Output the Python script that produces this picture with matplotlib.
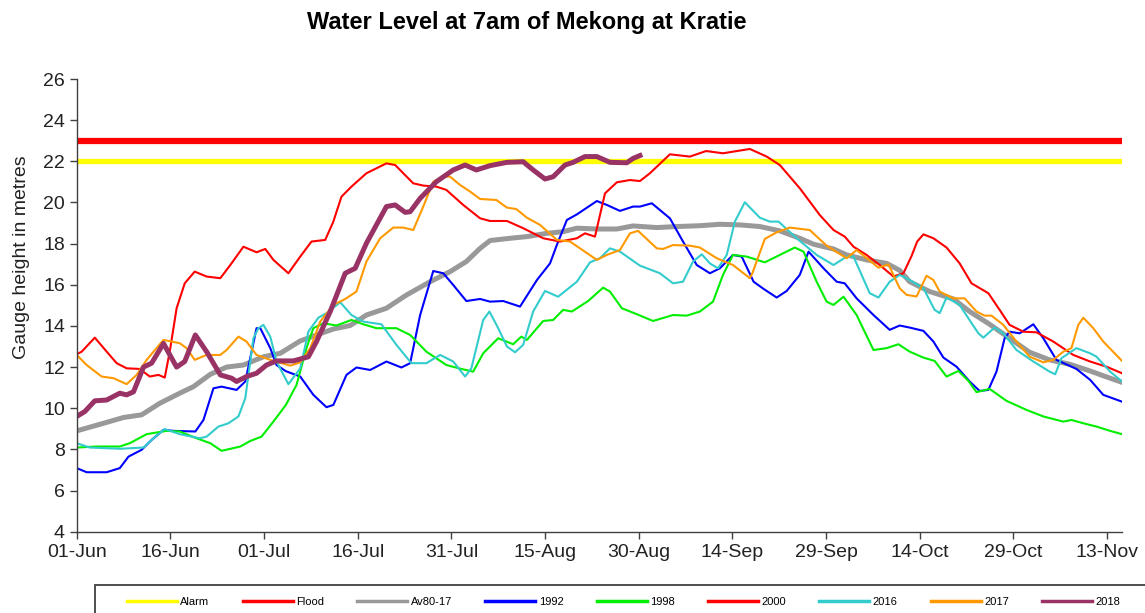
import matplotlib.pyplot as plt
from matplotlib.patches import Rectangle

plt.rcParams['font.family'] = ['Liberation Sans', 'DejaVu Sans']

# Water level (m) at Kratie, day counted from 01-Jun
alarm_level = 22.0
flood_level = 23.0

tick_days = [0, 15, 30, 45, 60, 75, 90, 105, 120, 135, 150, 165]
tick_labels = ['01-Jun', '16-Jun', '01-Jul', '16-Jul', '31-Jul', '15-Aug',
               '30-Aug', '14-Sep', '29-Sep', '14-Oct', '29-Oct', '13-Nov']

days_av = [0, 4.3, 7.5, 10.4, 13.3, 16.5, 18.7, 21.4, 24.0, 26.7,
           29.9, 32.6, 35.8, 38.4, 41.1, 43.8, 46.4, 49.6, 52.8, 56.6,
           59.8, 62.4, 64.6, 66.2, 69.4, 72.1, 75.3, 77.9, 80.1, 83.3,
           86.5, 89.1, 92.9, 96.1, 99.8, 103.0, 106.2, 109.4, 112.6, 115.8,
           118.0, 121.2, 123.3, 126.5, 129.7, 131.8, 133.4, 136.6, 140.4, 143.0,
           146.2, 149.4, 152.6, 155.8, 159.0, 162.3, 165.5, 167.4]
lvl_av = [8.9, 9.27, 9.55, 9.68, 10.24, 10.73, 11.05, 11.65, 12.0, 12.1,
          12.5, 12.67, 13.27, 13.56, 13.85, 14.02, 14.53, 14.86, 15.5, 16.15,
          16.64, 17.13, 17.77, 18.15, 18.26, 18.34, 18.5, 18.58, 18.75, 18.71,
          18.71, 18.86, 18.78, 18.83, 18.87, 18.94, 18.91, 18.83, 18.62, 18.26,
          17.97, 17.74, 17.45, 17.21, 17.04, 16.7, 16.15, 15.67, 15.31, 14.7,
          14.08, 13.4, 12.72, 12.35, 12.14, 11.81, 11.46, 11.26]

days_1992 = [0, 1.6, 4.8, 6.9, 8.3, 10.4, 12.0, 13.9, 15.5, 19.0,
             20.3, 21.9, 23.2, 25.6, 27.0, 28.8, 29.4, 31.0, 32.0, 33.5,
             35.8, 37.9, 40.0, 41.1, 43.2, 44.8, 47.0, 49.6, 52.0, 53.4,
             55.0, 57.1, 58.7, 60.3, 62.4, 64.6, 66.2, 68.3, 71.0, 73.7,
             75.8, 76.9, 78.5, 80.1, 83.3, 84.9, 87.0, 89.1, 90.2, 92.1,
             95.0, 97.1, 99.3, 101.4, 103.0, 105.1, 106.5, 108.4, 110.0, 112.1,
             113.7, 115.8, 117.2, 119.6, 121.7, 123.0, 124.9, 127.6, 130.2, 131.8,
             133.4, 135.6, 137.2, 138.8, 140.9, 143.0, 144.6, 146.0, 147.3, 148.6,
             149.4, 151.0, 153.2, 154.8, 156.9, 160.1, 162.3, 164.4, 167.4]
lvl_1992 = [7.09, 6.89, 6.89, 7.09, 7.65, 7.98, 8.46, 8.95, 8.9, 8.87,
            9.43, 10.97, 11.05, 10.89, 11.3, 13.89, 13.89, 12.92, 12.1, 11.8,
            11.54, 10.65, 10.05, 10.16, 11.62, 11.98, 11.86, 12.27, 11.98, 12.19,
            14.53, 16.67, 16.56, 15.99, 15.21, 15.31, 15.18, 15.21, 14.94, 16.23,
            17.04, 17.94, 19.15, 19.42, 20.07, 19.88, 19.59, 19.8, 19.8, 19.96,
            19.23, 18.1, 16.96, 16.56, 16.8, 17.45, 17.37, 16.15, 15.8, 15.38,
            15.7, 16.48, 17.61, 16.8, 16.15, 16.07, 15.34, 14.53, 13.81, 14.02,
            13.92, 13.76, 13.24, 12.46, 12.02, 11.3, 10.84, 10.89, 11.78, 13.4,
            13.72, 13.64, 14.08, 13.4, 12.35, 11.91, 11.38, 10.65, 10.32]

days_1998 = [0, 3.2, 6.9, 8.5, 11.2, 14.4, 16.5, 19.2, 21.4, 23.2,
             26.2, 27.8, 29.6, 31.5, 33.5, 35.2, 36.8, 37.9, 39.5, 41.6,
             44.0, 45.9, 48.0, 51.2, 53.4, 56.0, 59.2, 61.6, 63.5, 65.1,
             67.5, 69.9, 71.2, 72.1, 74.7, 76.3, 77.9, 79.3, 81.9, 84.3,
             85.4, 87.3, 89.7, 92.3, 95.5, 97.7, 99.8, 101.9, 103.5, 105.1,
             107.3, 110.2, 112.6, 115.0, 116.4, 118.5, 120.1, 121.2, 122.8, 124.9,
             127.6, 129.7, 131.6, 133.4, 135.6, 137.4, 139.3, 141.2, 142.8, 144.1,
             146.2, 148.9, 152.1, 154.8, 158.0, 159.3, 161.2, 163.3, 165.5, 167.4]
lvl_1998 = [8.09, 8.14, 8.14, 8.3, 8.74, 8.9, 8.87, 8.54, 8.3, 7.93,
            8.14, 8.41, 8.62, 9.35, 10.16, 11.13, 12.92, 13.89, 14.13, 14.02,
            14.29, 14.08, 13.89, 13.89, 13.56, 12.75, 12.1, 11.91, 11.78, 12.67,
            13.4, 13.11, 13.48, 13.32, 14.24, 14.29, 14.78, 14.7, 15.21, 15.86,
            15.67, 14.86, 14.57, 14.24, 14.53, 14.5, 14.7, 15.18, 16.48, 17.45,
            17.37, 17.09, 17.45, 17.81, 17.61, 16.15, 15.18, 15.02, 15.42, 14.53,
            12.83, 12.92, 13.11, 12.75, 12.46, 12.3, 11.54, 11.81, 11.33, 10.78,
            10.94, 10.36, 9.92, 9.6, 9.35, 9.43, 9.27, 9.11, 8.9, 8.74]

days_2000 = [0, 0.8, 2.9, 4.8, 6.4, 8.0, 10.1, 11.7, 13.1, 14.1,
             14.9, 16.0, 17.3, 18.9, 20.8, 23.0, 24.6, 26.7, 28.8, 30.2,
             31.5, 33.9, 35.8, 37.6, 39.8, 41.1, 42.4, 44.0, 46.4, 49.6,
             51.0, 52.3, 53.9, 55.5, 57.6, 59.2, 61.9, 64.6, 66.2, 68.9,
             71.5, 74.7, 77.4, 80.1, 81.4, 83.0, 83.8, 84.6, 86.5, 88.6,
             90.2, 91.8, 95.0, 98.2, 100.8, 103.5, 107.8, 110.5, 112.6, 115.8,
             119.0, 121.2, 123.0, 124.4, 126.5, 128.6, 130.8, 132.4, 133.7, 134.6,
             135.6, 137.2, 139.3, 141.4, 143.3, 146.0, 147.8, 149.4, 151.6, 153.7,
             156.4, 159.6, 162.3, 164.9, 167.4]
lvl_2000 = [12.62, 12.75, 13.43, 12.75, 12.19, 11.94, 11.91, 11.54, 11.62, 11.49,
            12.75, 14.86, 16.07, 16.64, 16.4, 16.32, 16.96, 17.85, 17.58, 17.74,
            17.21, 16.56, 17.37, 18.1, 18.18, 19.07, 20.28, 20.77, 21.42, 21.9,
            21.82, 21.42, 20.93, 20.82, 20.77, 20.61, 19.88, 19.23, 19.1, 19.1,
            18.75, 18.26, 18.1, 18.26, 18.5, 18.34, 19.39, 20.44, 20.98, 21.09,
            21.04, 21.42, 22.34, 22.23, 22.5, 22.39, 22.6, 22.23, 21.82, 20.69,
            19.39, 18.66, 18.34, 17.85, 17.45, 16.96, 16.4, 16.56, 17.4, 18.1,
            18.45, 18.26, 17.81, 17.04, 16.07, 15.59, 14.78, 14.05, 13.72, 13.69,
            13.24, 12.59, 12.27, 12.02, 11.7]

days_2016 = [0, 2.1, 6.9, 10.7, 12.3, 14.1, 16.5, 19.7, 20.8, 22.7,
             24.3, 25.9, 27.0, 28.3, 29.1, 29.9, 31.0, 32.0, 33.9, 35.8,
             37.1, 38.7, 40.0, 42.2, 44.0, 45.9, 48.8, 51.2, 53.6, 56.0,
             58.2, 60.3, 62.2, 63.2, 65.1, 66.1, 67.5, 68.9, 70.2, 71.5,
             73.1, 75.0, 77.1, 80.1, 82.2, 83.8, 85.4, 87.0, 90.2, 93.4,
             95.5, 97.1, 98.7, 100.1, 101.4, 102.7, 104.1, 105.4, 107.0, 109.4,
             111.0, 112.4, 115.3, 118.5, 121.2, 123.3, 124.4, 127.0, 128.4, 130.2,
             131.8, 133.4, 135.6, 137.4, 138.2, 139.3, 141.4, 142.8, 144.4, 145.2,
             147.0, 148.4, 150.5, 153.2, 155.8, 156.7, 157.7, 160.1, 162.3, 163.3,
             165.5, 167.4]
lvl_2016 = [8.3, 8.09, 8.03, 8.09, 8.54, 8.99, 8.74, 8.54, 8.62, 9.11,
            9.27, 9.6, 10.49, 13.4, 13.89, 14.05, 13.48, 12.27, 11.17, 11.94,
            13.72, 14.4, 14.62, 15.15, 14.53, 14.21, 14.08, 13.08, 12.19, 12.19,
            12.59, 12.27, 11.54, 11.94, 14.29, 14.7, 13.89, 13.0, 12.72, 13.08,
            14.7, 15.7, 15.42, 16.15, 17.09, 17.29, 17.77, 17.61, 16.93, 16.56,
            16.07, 16.15, 17.13, 17.48, 17.04, 16.8, 17.45, 19.07, 20.01, 19.26,
            19.07, 19.07, 18.26, 17.45, 16.96, 17.37, 17.37, 15.59, 15.38, 16.15,
            16.48, 16.23, 15.83, 14.78, 14.62, 15.38, 15.02, 14.37, 13.64, 13.43,
            13.92, 13.64, 12.83, 12.27, 11.78, 11.65, 12.43, 12.92, 12.67, 12.51,
            11.78, 11.3]

days_2017 = [0, 1.6, 4.0, 5.9, 8.0, 9.6, 11.2, 13.9, 16.5, 17.6,
             18.9, 20.8, 23.0, 24.0, 25.9, 27.2, 28.8, 31.0, 34.2, 35.8,
             37.4, 39.0, 41.1, 43.0, 44.8, 46.4, 48.6, 50.7, 52.3, 53.9,
             55.5, 57.1, 58.7, 59.8, 61.4, 63.0, 64.6, 67.2, 68.9, 70.4,
             72.1, 74.2, 76.9, 79.0, 80.6, 83.3, 84.9, 87.0, 88.6, 89.9,
             92.9, 93.9, 95.5, 98.2, 99.8, 102.5, 105.1, 107.8, 108.2, 110.2,
             112.1, 114.2, 117.4, 120.1, 123.3, 124.9, 128.4, 130.0, 131.8, 132.9,
             134.5, 136.1, 137.2, 138.2, 140.4, 142.2, 144.1, 145.4, 146.5, 148.4,
             150.5, 152.6, 154.8, 156.4, 158.0, 159.3, 160.4, 161.2, 162.8, 164.4,
             167.4]
lvl_2017 = [12.59, 12.1, 11.54, 11.46, 11.17, 11.62, 12.35, 13.32, 13.16, 12.92,
            12.35, 12.59, 12.59, 12.83, 13.48, 13.24, 12.59, 12.35, 12.07, 12.23,
            12.92, 14.21, 15.02, 15.31, 15.67, 17.13, 18.26, 18.78, 18.78, 18.66,
            19.8, 21.01, 21.25, 21.25, 20.85, 20.53, 20.17, 20.12, 19.75, 19.68,
            19.26, 18.91, 18.18, 18.1, 17.77, 17.21, 17.45, 17.69, 18.5, 18.62,
            17.77, 17.74, 17.93, 17.9, 17.81, 17.29, 16.96, 16.32, 16.56, 18.23,
            18.55, 18.78, 18.66, 17.9, 17.29, 17.69, 16.83, 16.99, 15.83, 15.51,
            15.43, 16.44, 16.23, 15.67, 15.34, 15.34, 14.7, 14.5, 14.5, 14.05,
            13.24, 12.51, 12.23, 12.35, 12.75, 12.92, 14.05, 14.4, 13.89, 13.24,
            12.3]

days_2018 = [0, 1.3, 2.9, 4.8, 6.9, 8.0, 9.1, 10.7, 12.0, 13.9,
             16.0, 17.3, 19.0, 20.8, 23.0, 24.8, 25.6, 27.2, 28.8, 30.4,
             32.0, 34.7, 37.1, 38.4, 40.6, 43.0, 44.6, 46.4, 49.6, 51.0,
             52.6, 53.4, 55.0, 57.6, 60.3, 62.2, 64.0, 66.2, 68.9, 71.5,
             73.1, 75.0, 76.3, 78.2, 79.5, 81.4, 83.3, 85.4, 88.1, 89.1,
             90.2]
lvl_2018 = [9.6, 9.84, 10.36, 10.4, 10.73, 10.65, 10.8, 12.0, 12.19, 13.15,
            12.0, 12.27, 13.56, 12.75, 11.62, 11.46, 11.3, 11.54, 11.7, 12.1,
            12.3, 12.3, 12.5, 13.24, 14.7, 16.56, 16.8, 18.02, 19.8, 19.88,
            19.52, 19.55, 20.2, 21.01, 21.58, 21.82, 21.58, 21.79, 21.95, 21.98,
            21.58, 21.14, 21.25, 21.82, 21.95, 22.23, 22.23, 21.95, 21.93, 22.14,
            22.28]

fig = plt.figure(figsize=(11.45, 6.13), dpi=100)
ax = fig.add_axes([76.7 / 1145, 1 - 531.7 / 613, 1045.3 / 1145, 452.7 / 613])

ax.axhline(alarm_level, color='#FFFF00', lw=3.8, label='Alarm')
ax.axhline(flood_level, color='#FF0000', lw=4.5, label='Flood')
ax.plot(days_av, lvl_av, color='#999999', lw=3.6, label='Av80-17')
ax.plot(days_1992, lvl_1992, color='#0000FF', lw=1.5, label='1992')
ax.plot(days_1998, lvl_1998, color='#00EE00', lw=1.5, label='1998')
ax.plot(days_2000, lvl_2000, color='#FF0000', lw=1.5, label='2000')
ax.plot(days_2016, lvl_2016, color='#33CCCC', lw=1.5, label='2016')
ax.plot(days_2017, lvl_2017, color='#FF9900', lw=1.5, label='2017')
ax.plot(days_2018, lvl_2018, color='#993366', lw=3.6, label='2018')

ax.set_xlim(0, 167.4)
ax.set_ylim(4, 26)
ax.set_yticks(range(4, 27, 2))
ax.set_xticks(tick_days)
ax.set_xticklabels(tick_labels)
ax.tick_params(direction='out', length=5, width=1, color='#404040',
               labelsize=14, labelcolor='#222222')
for s in ['top', 'right']:
    ax.spines[s].set_visible(False)
for s in ['left', 'bottom']:
    ax.spines[s].set_color('#404040')
    ax.spines[s].set_linewidth(1)

ax.set_ylabel('Gauge height in metres', fontsize=14, color='#222222')
ax.yaxis.set_label_coords(-0.045, 0.607)

fig.text(527 / 1145, 1 - 23 / 613, 'Water Level at 7am of Mekong at Kratie',
         ha='center', va='center', fontsize=17, fontweight='bold')

# legend frame drawn by hand, it runs off the bottom/right of the picture
fig.patches.append(Rectangle((95 / 1145, -0.01), 1060 / 1145, 1 - 585 / 613 + 0.01,
                             transform=fig.transFigure, facecolor='white',
                             edgecolor='#404040', lw=1.3, zorder=0))

handles, labels = ax.get_legend_handles_labels()
leg = fig.legend(handles, labels, loc='upper left', ncol=9,
                 bbox_to_anchor=(118 / 1145, 1 - 588 / 613),
                 fontsize=8, handlelength=4.5, handletextpad=0.3,
                 columnspacing=3.0, borderpad=0.8, borderaxespad=0,
                 frameon=False)
for h in leg.get_lines():
    h.set_linewidth(2.5)

fig.savefig('out.png', dpi=100)
